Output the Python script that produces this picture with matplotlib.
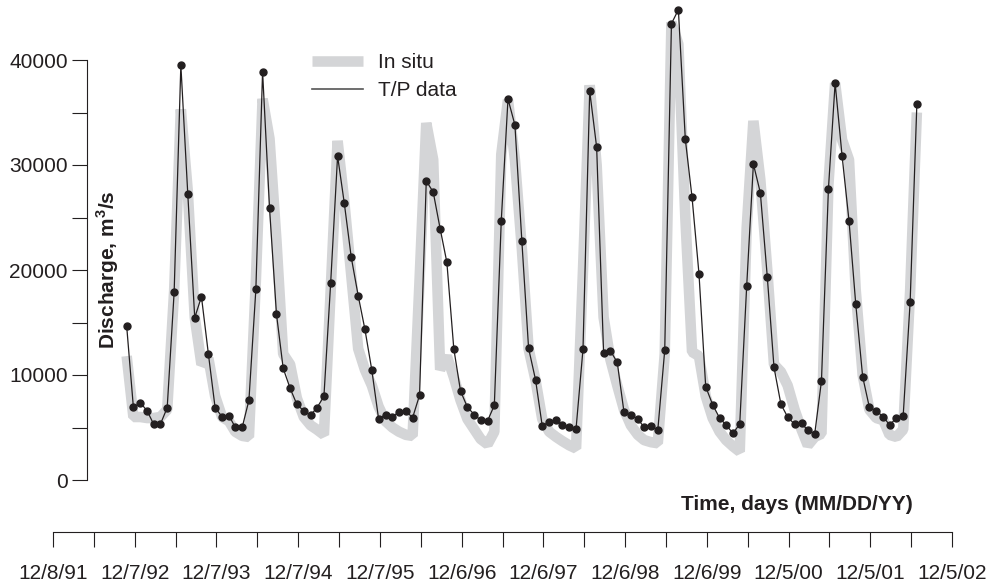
import numpy as np
import pandas as pd
import matplotlib
matplotlib.use('Agg')
import matplotlib.pyplot as plt
from matplotlib.lines import Line2D

plt.rcParams['font.family'] = ['Liberation Sans', 'DejaVu Sans']
plt.rcParams['mathtext.fontset'] = 'custom'
plt.rcParams['mathtext.rm'] = 'Liberation Sans'
plt.rcParams['mathtext.bf'] = 'Liberation Sans:bold'

#%% Data (monthly discharge, m3/s)
start_date = pd.Timestamp('1991-12-08')
months = pd.date_range('1992-11-01', periods=117, freq='MS')

tp_data = [14667, 6924, 7362, 6571, 5333, 5333, 6886, 17876, 39524, 27210,
           15457, 17457, 12000, 6886, 6029, 6124, 5019, 5019, 7590, 18162,
           38886, 25905, 15810, 10638, 8733, 7210, 6571, 6190, 6886, 7971,
           18733, 30857, 26352, 21210, 17552, 14352, 10448, 5838, 6219, 6029,
           6476, 6571, 5933, 8067, 28476, 27429, 23933, 20733, 12505, 8476,
           6924, 6219, 5686, 5648, 7114, 24695, 36286, 33810, 22733, 12543,
           9552, 5143, 5552, 5743, 5238, 5076, 4886, 12448, 37048, 31686,
           12067, 12314, 11210, 6476, 6162, 5810, 5019, 5171, 4733, 12352,
           43457, 44790, 32448, 26924, 19648, 8886, 7171, 5905, 5238, 4448,
           5333, 18448, 30095, 27362, 19362, 10733, 7210, 6000, 5305, 5400,
           4733, 4410, 9429, 27686, 37810, 30886, 24695, 16790, 9838, 6924,
           6571, 6029, 5238, 5905, 6124, 16924, 35781]

insitu_data = [11800, 6000, 6000, 5900, 5900, 6000, 6700, 18000, 35300, 27500,
               15500, 11000, 11600, 8000, 6000, 5600, 4600, 4200, 4100, 19000,
               36300, 32500, 22800, 12000, 11000, 7800, 6000, 5200, 4800, 4300,
               18000, 32300, 26500, 19500, 12500, 10500, 9000, 7000, 5600, 5000,
               4600, 4300, 4200, 19000, 34000, 30500, 10500, 11800, 9800, 7600,
               5800, 4800, 3900, 3400, 4600, 31000, 36200, 30500, 22000, 12500,
               9500, 5800, 4600, 4100, 3700, 3300, 3000, 20000, 37600, 30000,
               15500, 11500, 9000, 6700, 5200, 4300, 3800, 3600, 3500, 12000,
               43600, 41500, 25000, 12200, 11800, 8000, 5900, 4600, 3800, 3200,
               2700, 24000, 34200, 28600, 20000, 11000, 10300, 9000, 6700, 4800,
               3300, 4100, 4400, 28100, 37800, 32400, 30500, 18100, 10000, 6700,
               5900, 5700, 4300, 4100, 4800, 18000, 35000]

tick_labels = ['12/8/91', '12/7/92', '12/7/93', '12/7/94', '12/7/95', '12/6/96',
               '12/6/97', '12/6/98', '12/6/99', '12/5/00', '12/5/01', '12/5/02']

days = (months - start_date).days.values
total_days = 365 * (len(tick_labels) - 1)

#%% Plot
W, H = 989, 587
ink = '#231f20'
fig = plt.figure(figsize=(W / 100, H / 100), dpi=100)

ax = fig.add_axes([53 / W, (H - 480) / H, 899 / W, 480 / H])
ax.patch.set_visible(False)
ax.set_xlim(0, total_days)
ax.set_ylim(0, 40000 * 480 / 420)

ax.plot(days, insitu_data, color='#d4d5d7', lw=7.6, solid_joinstyle='bevel',
        solid_capstyle='butt', zorder=1, label='In situ')
ax.plot(days, tp_data, color=ink, lw=0.9, marker='o', ms=5.0, zorder=2, clip_on=False)

for s in ['top', 'right', 'bottom']:
    ax.spines[s].set_visible(False)
ax.spines['left'].set_position(('data', (87 - 53) * total_days / 899))
ax.spines['left'].set_bounds(0, 40000)
ax.spines['left'].set_color(ink)
ax.spines['left'].set_linewidth(0.8)
ax.set_yticks(np.arange(0, 40001, 10000))
ax.set_yticks(np.arange(5000, 40000, 10000), minor=True)
ax.set_xticks([])
ax.tick_params(axis='y', which='both', length=10.8, width=0.8, direction='out',
               pad=3, labelsize=15, color=ink, labelcolor=ink)

# legend
gray_handle = ax.get_legend_handles_labels()[0][0]
tp_handle = Line2D([], [], color='#555555', lw=1.2)
fig.legend([gray_handle, tp_handle], ['In situ', 'T/P data'], loc='upper left',
           bbox_to_anchor=(312 / W, 1 - 53 / H), frameon=False, fontsize=15,
           handlelength=2.45, handletextpad=0.7, borderpad=0, borderaxespad=0,
           labelspacing=0.45, labelcolor=ink)

# axis titles
fig.text(108 / W, 1 - 270 / H, r'Discharge, m$^{\mathbf{3}}$/s', rotation=90,
         ha='center', va='center', fontsize=15, fontweight='bold', color=ink)
fig.text(797 / W, 1 - 510 / H, 'Time, days (MM/DD/YY)', ha='center', va='baseline',
         fontsize=15, fontweight='bold', color=ink)

# separate time axis
ax2 = fig.add_axes([53 / W, (H - 532) / H, 899 / W, 0.0001])
ax2.patch.set_visible(False)
ax2.set_xlim(0, total_days)
for s in ['top', 'right', 'left']:
    ax2.spines[s].set_visible(False)
ax2.spines['bottom'].set_color(ink)
ax2.spines['bottom'].set_linewidth(0.8)
ax2.set_yticks([])
ticks = np.arange(0, total_days + 1, 182.5)
labels = []
for i in range(len(ticks)):
    labels.append(tick_labels[i // 2] if i % 2 == 0 else '')
ax2.set_xticks(ticks)
ax2.set_xticklabels(labels)
ax2.tick_params(axis='x', length=10.8, width=0.8, direction='out', pad=12,
                labelsize=15, color=ink, labelcolor=ink)

plt.savefig('out.png', dpi=100)
